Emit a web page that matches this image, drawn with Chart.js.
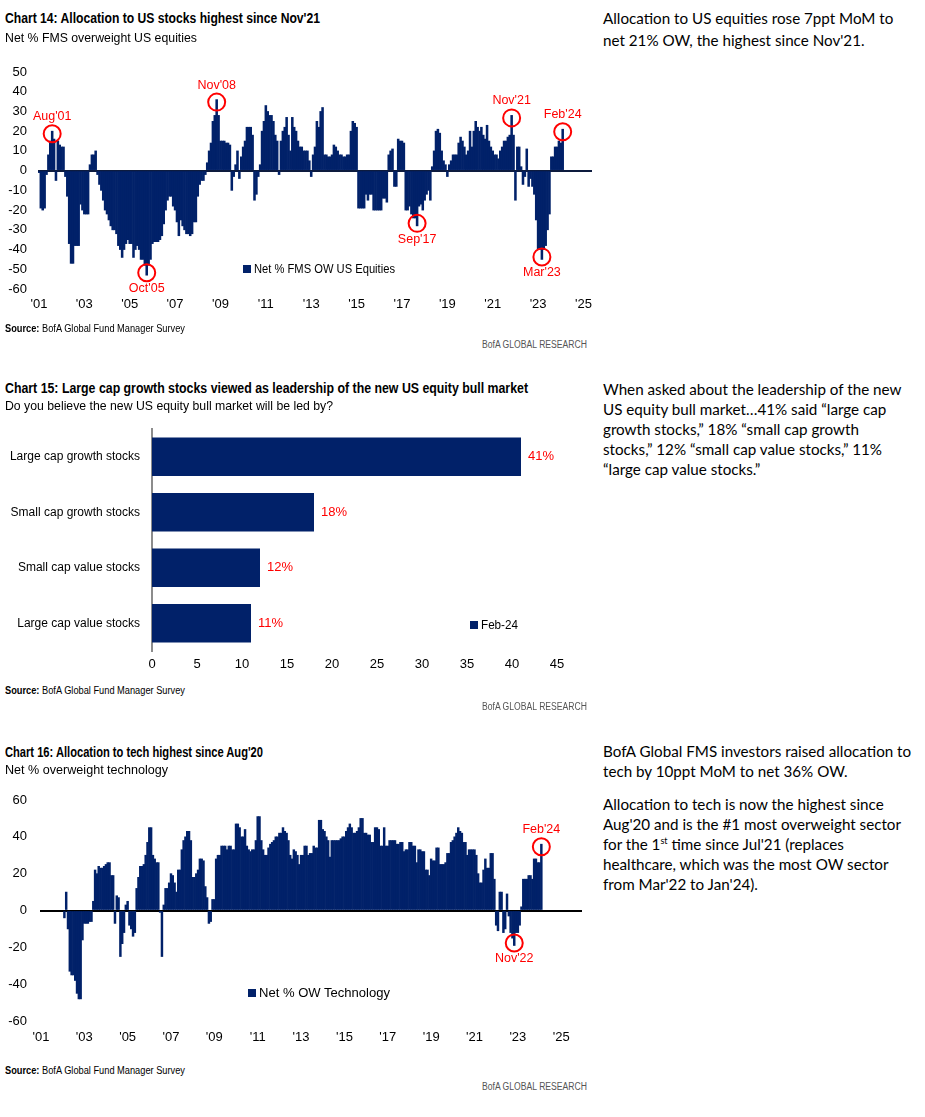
<!DOCTYPE html>
<html>
<head>
<meta charset="utf-8">
<script src="https://cdn.jsdelivr.net/npm/chart.js@4.4.1/dist/chart.umd.min.js"></script>
<style>
  body { margin:0; background:#fff; width:925px; height:1117px; position:relative; overflow:hidden;
         font-family:'Liberation Sans',Arial,sans-serif; color:#000; }
  .abs { position:absolute; white-space:nowrap; transform-origin:0 0; }
  .title { left:5px; font-weight:bold; font-size:14px; line-height:16px; }
  .sub { left:5px; font-size:13.5px; line-height:16px; }
  .src { left:5px; font-size:10px; line-height:12px; }
  .brand { left:482px; font-size:10px; line-height:12px; color:#555; }
  .note { left:603px; font-family:Lato,'Noto Sans',sans-serif; font-size:15.2px; line-height:20px; }
  .leg { font-size:13px; line-height:14px; }
  .sq { position:absolute; width:8px; height:8px; background:#012169; }
  canvas { position:absolute; left:0; }
</style>
</head>
<body>

<canvas id="c14" width="600" height="283" style="top:42px"></canvas>
<canvas id="c15" width="600" height="286" style="top:399px"></canvas>
<canvas id="c16" width="600" height="285" style="top:770px"></canvas>

<div class="abs title" style="top:10px" data-w="315">Chart 14: Allocation to US stocks highest since Nov'21</div>
<div class="abs sub" style="top:30px" data-w="192">Net % FMS overweight US equities</div>
<div class="sq" style="left:243px;top:265px"></div>
<div class="abs leg" style="left:254px;top:262px" data-w="141">Net % FMS OW US Equities</div>
<div class="abs src" style="top:323px" data-w="180"><b>Source:</b> BofA Global Fund Manager Survey</div>
<div class="abs brand" style="top:339px" data-w="105">BofA GLOBAL RESEARCH</div>

<div class="abs note" style="top:7px;line-height:22px">Allocation to US equities rose 7ppt MoM to<br>net 21% OW, the highest since Nov'21.</div>

<div class="abs title" style="top:380px" data-w="523">Chart 15: Large cap growth stocks viewed as leadership of the new US equity bull market</div>
<div class="abs sub" style="top:398px" data-w="328">Do you believe the new US equity bull market will be led by?</div>
<div class="sq" style="left:470px;top:621px"></div>
<div class="abs leg" style="left:481px;top:618px" data-w="37">Feb-24</div>
<div class="abs src" style="top:685px" data-w="180"><b>Source:</b> BofA Global Fund Manager Survey</div>
<div class="abs brand" style="top:701px" data-w="105">BofA GLOBAL RESEARCH</div>

<div class="abs note" style="top:379px">When asked about the leadership of the new<br>US equity bull market…41% said “large cap<br>growth stocks,” 18% “small cap growth<br>stocks,” 12% “small cap value stocks,” 11%<br>“large cap value stocks.”</div>

<div class="abs title" style="top:744px" data-w="258">Chart 16: Allocation to tech highest since Aug'20</div>
<div class="abs sub" style="top:762px" data-w="163">Net % overweight technology</div>
<div class="sq" style="left:248px;top:989px"></div>
<div class="abs leg" style="left:259px;top:986px" data-w="131">Net % OW Technology</div>
<div class="abs src" style="top:1065px" data-w="180"><b>Source:</b> BofA Global Fund Manager Survey</div>
<div class="abs brand" style="top:1081px" data-w="105">BofA GLOBAL RESEARCH</div>

<div class="abs note" style="top:741px">BofA Global FMS investors raised allocation to<br>tech by 10ppt MoM to net 36% OW.</div>
<div class="abs note" style="top:794px">Allocation to tech is now the highest since<br>Aug'20 and is the #1 most overweight sector<br>for the 1<sup style="font-size:9px;line-height:0">st</sup> time since Jul'21 (replaces<br>healthcare, which was the most OW sector<br>from Mar'22 to Jan'24).</div>

<script>
// ---- data ----
const monthNames = ['Jan','Feb','Mar','Apr','May','Jun','Jul','Aug','Sep','Oct','Nov','Dec'];
const tickYears = ['01','03','05','07','09','11','13','15','17','19','21','23','25'];

// Net % FMS OW US equities, monthly from Jan-01 to Feb-24
const usEquityOW = [
  -1, -19, -20, -19, -2, 8, 15, 20, 16, -5, 15, 13,          // 2001
  12, 12, -3, -13, -37, -47, -47, -38, -38, -38, -17, -20,   // 2002
  -22, -22, -22, 3, 8, 8, 10, -2, -7, -10, -15, -20,         // 2003
  -22, -25, -28, -30, -30, -32, -38, -40, -44, -40, -37, -35,// 2004
  -37, -37, -44, -40, -38, -40, -45, -45, -48, -53, -48, -45,// 2005
  -37, -36, -36, -36, -35, -33, -27, -20, -15, -13, -13, -18,// 2006
  -20, -26, -33, -25, -28, -30, -32, -32, -33, -32, -26, -26,// 2007
  -13, -7, -5, -5, -2, 4, 10, 14, 25, 28, 36, 28,            // 2008
  15, 15, 15, 14, 14, 13, -10, -3, 3, 10, -4, 7,             // 2009
  12, 15, 22, 22, 22, 18, -15, -12, -3, 3, 20, 25,           // 2010
  33, 30, 28, 28, 25, 18, 15, -2, 15, 20, 22, 27,            // 2011
  18, 10, 27, 22, 20, 15, 12, 12, 10, 10, 10, 5,             // 2012
  -3, 8, 12, 25, 22, 30, 32, 8, 8, 7, 7, 8,                  // 2013
  13, 12, 10, 8, 8, 7, 7, 8, 8, 20, 25, 24,                  // 2014
  22, -19, -19, -19, -19, -12, -15, -12, -12, -20, -20, -20, // 2015
  -20, -20, -14, -14, -16, 8, 10, 11, -8, -8, 16, 15,        // 2016
  15, 14, -20, -20, -18, -22, -24, -24, -28, -18, -17, -20,  // 2017
  -15, -12, -10, -15, 2, 10, 20, 21, 19, 10, 5, 3,           // 2018
  -3, 3, 5, 8, 8, 8, 14, 17, 15, 12, 8, 10,                  // 2019
  20, 12, 20, 25, 22, 20, 22, 18, 16, 23, 15, 12,            // 2020
  10, 8, 8, 6, 10, 12, 15, 15, 17, 18, 28, 18,               // 2021
  -15, 12, 12, 2, -7, -3, 11, -8, -4, -8, -12, -25,          // 2022
  -40, -40, -45, -40, -38, -30, -22, 7, 7, 12, 12, 15,       // 2023
  14, 21                                                     // 2024
];

// Net % OW technology, monthly from Jan-01 to Feb-24
const techOW = [
  null, null, null, null, null, null, null, null, null, null, null, null, // 2001
  null, -4, 10, -10, -33, -35, -35, -38, -45, -48, -48, -16,  // 2002
  -7, -7, -7, -6, -6, 5, 22, 20, 24, 23, 23, 24,              // 2003
  25, 26, 26, 19, 19, -7, 8, 7, -25, -18, -12, 3,             // 2004
  5, -8, -10, -14, -12, 12, 18, 24, 24, 25, 30, 37,           // 2005
  45, 45, 30, 28, 26, 26, -1, -25, 3, 12, 12, 15,             // 2006
  20, 19, 15, 10, 22, 22, 33, 38, 40, 43, 43, 38,             // 2007
  18, 18, 20, 22, 28, 28, 27, 13, 7, -7, -6, 6,               // 2008
  6, 28, 30, 30, 35, 35, 35, 33, 35, 35, 33, 33,              // 2009
  47, 47, 45, 40, 40, 44, 35, 33, 32, 33, 33, 38,             // 2010
  51, 51, 38, 33, 30, 30, 34, 36, 37, 38, 40, 40,             // 2011
  42, 42, 45, 43, 42, 38, 30, 28, 33, 32, 30, 25,             // 2012
  30, 30, 35, 35, 30, 31, 31, 35, 34, 34, 49, 49,             // 2013
  44, 43, 40, 38, 29, 38, 38, 38, 38, 38, 39, 40,             // 2014
  40, 43, 45, 47, 45, 42, 42, 43, 45, 50, 50, 42,             // 2015
  42, 41, 41, 37, 37, 45, 45, 44, 35, 35, 45, 35,             // 2016
  35, 38, 38, 38, 38, 36, 36, 37, 37, 32, 33, 33,             // 2017
  37, 37, 35, 35, 26, 33, 33, 32, 32, 22, 22, 19,             // 2018
  28, 27, 27, 34, 34, 25, 25, 25, 26, 31, 31, 37,             // 2019
  38, 40, 42, 45, 43, 42, 37, 37, 30, 33, 33, 33,             // 2020
  33, 30, 20, 15, 15, 22, 28, 23, 23, 31, 31, 17,             // 2021
  -8, -11, 10, 10, -12, -10, 9, -3, -12, -15, -19, -12,       // 2022
  -12, -8, 2, 17, 17, 17, 19, 19, 17, 28, 28, 26,             // 2023
  26, 36                                                      // 2024
];

const usMarks = [
  { at: 'Aug-01', text: "Aug'01", side: 'above' },
  { at: 'Oct-05', text: "Oct'05", side: 'below' },
  { at: 'Nov-08', text: "Nov'08", side: 'above' },
  { at: 'Sep-17', text: "Sep'17", side: 'below' },
  { at: 'Nov-21', text: "Nov'21", side: 'above' },
  { at: 'Mar-23', text: "Mar'23", side: 'below' },
  { at: 'Feb-24', text: "Feb'24", side: 'above' }
];
const techMarks = [
  { at: 'Nov-22', text: "Nov'22", side: 'below' },
  { at: 'Feb-24', text: "Feb'24", side: 'above' }
];

const leaderCats = ['Large cap growth stocks', 'Small cap growth stocks', 'Small cap value stocks', 'Large cap value stocks'];
const leaderVals = [41, 18, 12, 11];

// ---- helpers ----
const NAVY = '#012169';
const RED = '#ff0000';
const FONT = "'Liberation Sans', Arial, sans-serif";

function monthRange(endYear, endMonth) {
  const out = [];
  for (let y = 2001; y <= endYear; y++) {
    for (let m = 0; m < 12; m++) {
      if (y === endYear && m > endMonth) break;
      out.push(monthNames[m] + '-' + String(y).slice(2));
    }
  }
  return out;
}
function padTo(arr, n) {
  const out = arr.slice();
  while (out.length < n) out.push(null);
  return out;
}
function yearTick(labels) {
  return function (v, i) {
    const l = labels[i];
    return l.startsWith('Jan') && tickYears.includes(l.slice(4)) ? "'" + l.slice(4) : '';
  };
}

// red rings round the bar ends, with the month written beside them
const circlePlugin = {
  id: 'circles',
  afterDatasetsDraw(chart, args, opts) {
    const { ctx, scales: { x, y } } = chart;
    const labels = chart.data.labels;
    const data = chart.data.datasets[0].data;
    ctx.save();
    opts.marks.forEach(m => {
      const i = labels.indexOf(m.at);
      const up = m.side === 'above';
      const px = x.getPixelForValue(i);
      const py = y.getPixelForValue(data[i]) + (up ? 2.5 : -2.5);
      ctx.strokeStyle = RED;
      ctx.lineWidth = 2;
      ctx.beginPath();
      ctx.arc(px, py, 8.5, 0, Math.PI * 2);
      ctx.stroke();
      ctx.fillStyle = RED;
      ctx.font = '12.5px ' + FONT;
      ctx.textAlign = 'center';
      ctx.textBaseline = 'middle';
      ctx.fillText(m.text, px, py + (up ? -17 : 16));
    });
    ctx.restore();
  }
};

function timeChart(id, labels, values, marks, opt) {
  return new Chart(document.getElementById(id), {
    type: 'bar',
    data: {
      labels: labels,
      datasets: [{
        data: padTo(values, labels.length),
        backgroundColor: NAVY,
        borderWidth: 0,
        barPercentage: 1,
        categoryPercentage: 1
      }]
    },
    options: {
      responsive: false,
      animation: false,
      events: [],
      layout: { padding: { left: 0, right: opt.right, top: 30, bottom: 0 } },
      plugins: { legend: { display: false }, tooltip: { enabled: false }, circles: { marks: marks } },
      scales: {
        x: {
          grid: { display: false, drawTicks: false },
          border: { display: false },
          ticks: {
            autoSkip: false, maxRotation: 0, padding: opt.xpad,
            color: '#000', font: { size: 13, family: FONT },
            callback: yearTick(labels)
          },
          afterFit: s => { s.height = opt.xh; }
        },
        y: {
          min: opt.min, max: opt.max,
          z: 1,
          border: { display: false },
          grid: {
            drawTicks: false, lineWidth: 2,
            color: c => (c.tick && c.tick.value === 0 ? opt.zero : 'rgba(0,0,0,0)')
          },
          ticks: { stepSize: opt.step, autoSkip: false, padding: opt.pad, color: '#000', font: { size: 13, family: FONT } },
          afterFit: s => { s.width = opt.left; }
        }
      }
    },
    plugins: [circlePlugin]
  });
}

// Chart 14
timeChart('c14', monthRange(2025, 4), usEquityOW, usMarks,
  { right: 8, xh: 36, xpad: 8, min: -60, max: 50, step: 10, left: 38, pad: 11, zero: '#0d1b3e' });

// Chart 16
timeChart('c16', monthRange(2025, 11), techOW, techMarks,
  { right: 18, xh: 34, xpad: 9, min: -60, max: 60, step: 20, left: 40, pad: 13, zero: '#000' });

// Chart 15
const valueLabels = {
  id: 'valueLabels',
  afterDatasetsDraw(chart) {
    const { ctx } = chart;
    ctx.save();
    ctx.fillStyle = RED;
    ctx.font = '13px ' + FONT;
    ctx.textBaseline = 'middle';
    chart.getDatasetMeta(0).data.forEach((bar, i) => {
      ctx.fillText(leaderVals[i] + '%', bar.x + 7, bar.y);
    });
    ctx.restore();
  }
};

new Chart(document.getElementById('c15'), {
  type: 'bar',
  data: {
    labels: leaderCats,
    datasets: [{ label: 'Feb-24', data: leaderVals, backgroundColor: NAVY, barPercentage: 0.69, categoryPercentage: 1 }]
  },
  options: {
    indexAxis: 'y',
    responsive: false,
    animation: false,
    events: [],
    layout: { padding: { left: 0, right: 43, top: 30, bottom: 0 } },
    plugins: { legend: { display: false }, tooltip: { enabled: false } },
    scales: {
      x: {
        min: 0, max: 45,
        grid: { display: false, drawTicks: false },
        border: { display: false },
        ticks: { stepSize: 5, padding: 6, color: '#000', font: { size: 13, family: FONT } },
        afterFit: s => { s.height = 34; }
      },
      y: {
        grid: { display: false, drawTicks: false },
        border: { display: true, color: '#8c8c8c', width: 2 },
        ticks: { padding: 12, color: '#000', font: { size: 12, family: FONT } },
        afterFit: s => { s.width = 152; }
      }
    }
  },
  plugins: [valueLabels]
});

// squeeze the narrow report font
function fitText() {
  document.querySelectorAll('[data-w]').forEach(el => {
    el.style.transform = 'none';
    const w = el.getBoundingClientRect().width;
    el.style.transform = 'scaleX(' + (Number(el.dataset.w) / w) + ')';
  });
}
fitText();
if (document.fonts) document.fonts.ready.then(fitText);
</script>
</body>
</html>
